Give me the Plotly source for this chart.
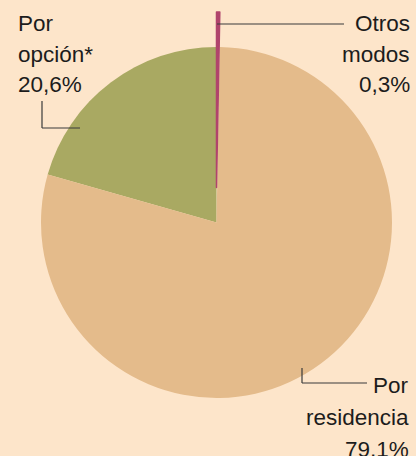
import plotly.graph_objects as go

# ---- data ----
labels = ["Otros modos", "Por opción*", "Por residencia"]
values = [0.3, 20.6, 79.1]
label_lines = {
    "Otros modos": ["Otros", "modos", "0,3%"],
    "Por opción*": ["Por", "opción*", "20,6%"],
    "Por residencia": ["Por", "residencia", "79,1%"],
}

# ---- style ----
W, H = 416, 456
BG = "#fde5ca"
COLORS = ["#b0446c", "#a9a962", "#e4bb8b"]
TEXT = "#1c1c1c"
LINE = "#3a3a3a"
FONT = "Liberation Sans, Arial, sans-serif"
FS = 22.5
CLEAR = "rgba(0,0,0,0)"


def px(x):
    return x / W


def py(y):
    return 1 - y / H


fig = go.Figure()

# main pie (Otros slice left empty: it is drawn pulled out below)
fig.add_trace(go.Pie(
    labels=labels, values=values, sort=False, direction="counterclockwise",
    rotation=0, textinfo="none", hoverinfo="label+percent",
    marker=dict(colors=[BG, COLORS[1], COLORS[2]], line=dict(width=0)),
    domain=dict(x=[px(41), px(392)], y=[py(398), py(47)]),
    showlegend=False,
))
# pulled-out "Otros modos" slice
fig.add_trace(go.Pie(
    labels=labels, values=values, sort=False, direction="counterclockwise",
    rotation=0, textinfo="none", hoverinfo="label+percent",
    marker=dict(colors=[COLORS[0], CLEAR, CLEAR],
                line=dict(width=1.5, color=[COLORS[0], CLEAR, CLEAR])),
    domain=dict(x=[px(41), px(392)], y=[py(363), py(12)]),
    showlegend=False,
))

annotations = []


def add_label(lines, x, baselines, anchor):
    for t, b in zip(lines, baselines):
        annotations.append(dict(
            text=t, x=px(x), y=py(b - 8), xref="paper", yref="paper",
            xanchor=anchor, yanchor="middle", showarrow=False,
            font=dict(family=FONT, size=FS, color=TEXT),
        ))


add_label(label_lines["Por opción*"], 16, [32, 62, 93], "left")
add_label(label_lines["Otros modos"], 412, [32, 63, 93], "right")
add_label(label_lines["Por residencia"], 411, [393, 425, 457], "right")

shapes = []


def seg(x0, y0, x1, y1):
    shapes.append(dict(type="line", xref="paper", yref="paper",
                       x0=px(x0), y0=py(y0), x1=px(x1), y1=py(y1),
                       line=dict(color=LINE, width=1.2)))


seg(217, 24, 344, 24)
seg(42, 101, 42, 128)
seg(42, 128, 80, 128)
seg(302, 368, 302, 383)
seg(302, 383, 367, 383)

fig.update_layout(
    width=W, height=H, margin=dict(l=0, r=0, t=0, b=0),
    paper_bgcolor=BG, plot_bgcolor=BG,
    annotations=annotations, shapes=shapes,
)

fig.write_html(
    "out.html",
    config={"displayModeBar": False},
    post_script="document.body.style.margin='0';document.body.style.overflow='hidden';",
)
